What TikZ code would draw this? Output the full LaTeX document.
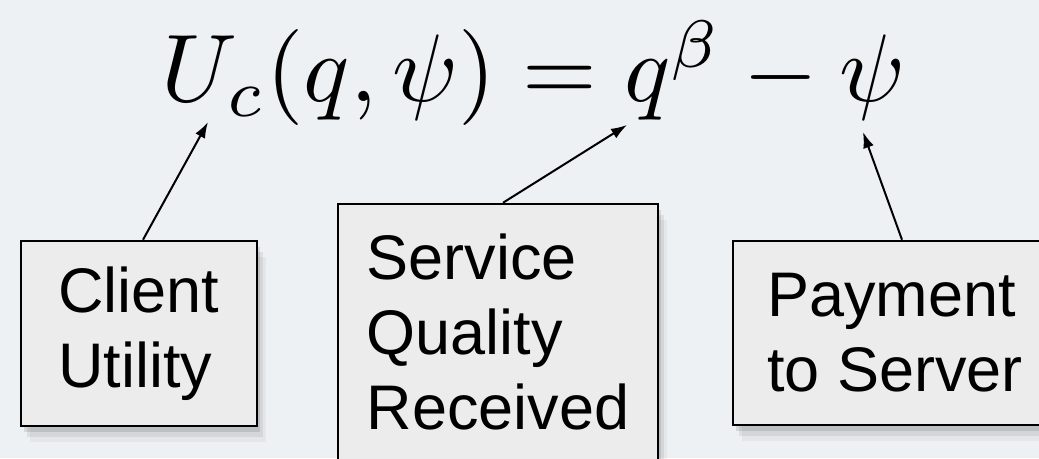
\documentclass[tikz,border=0pt]{standalone}
\usepackage{fontspec}
\setsansfont{Liberation Sans}
\usepackage{tikz}
\usetikzlibrary{positioning, arrows.meta, shadows}
\definecolor{SlideBg}{HTML}{EEF1F3}
\definecolor{BoxFill}{HTML}{ECECEC}

\begin{document}
\begin{tikzpicture}[x=1pt, y=1pt,
  labelbox/.style={draw=black, line width=2.5pt, fill=BoxFill, align=left, inner sep=0pt,
    font=\sffamily\fontsize{63}{75}\selectfont,
    general shadow={shadow xshift=3pt, shadow yshift=-6pt, fill=black, opacity=0.10},
    general shadow={shadow xshift=6pt, shadow yshift=-11pt, fill=black, opacity=0.07},
    general shadow={shadow xshift=9pt, shadow yshift=-16pt, fill=black, opacity=0.04}},
  pointer/.style={-{Latex[length=16pt, width=11pt]}, line width=2pt}]
  % Slide background
  \useasboundingbox (0,0) rectangle (1039,458);
  \fill[SlideBg] (0,0) rectangle (1039,458);
  \clip (0,0) rectangle (1039,458);
  % Utility equation
  \node[anchor=base west, inner sep=0pt, scale=9.6, transform shape] (eq) at (160,356)
    {$U_c(q,\psi) = q^\beta - \psi$};
  % Arrow targets in the equation
  \coordinate (tipU) at (208,336);
  \coordinate (tipQ) at (627,333);
  \coordinate (tipPsi) at (863,326);
  % Label boxes
  \node[labelbox, minimum width=236pt, minimum height=185pt] (client) at (139,124.5)
    {Client\\Utility};
  \node[labelbox, minimum width=320pt, minimum height=256pt] (quality) at (498,126)
    {Service\\Quality\\Received};
  \node[labelbox, minimum width=324pt, minimum height=184pt] (payment) at (895,125)
    {Payment\\to Server};
  % Pointers
  \draw[pointer] ([xshift=4pt]client.north) -- (tipU);
  \draw[pointer] ([xshift=5pt]quality.north) -- (tipQ);
  \draw[pointer] ([xshift=7pt]payment.north) -- (tipPsi);
\end{tikzpicture}
\end{document}
